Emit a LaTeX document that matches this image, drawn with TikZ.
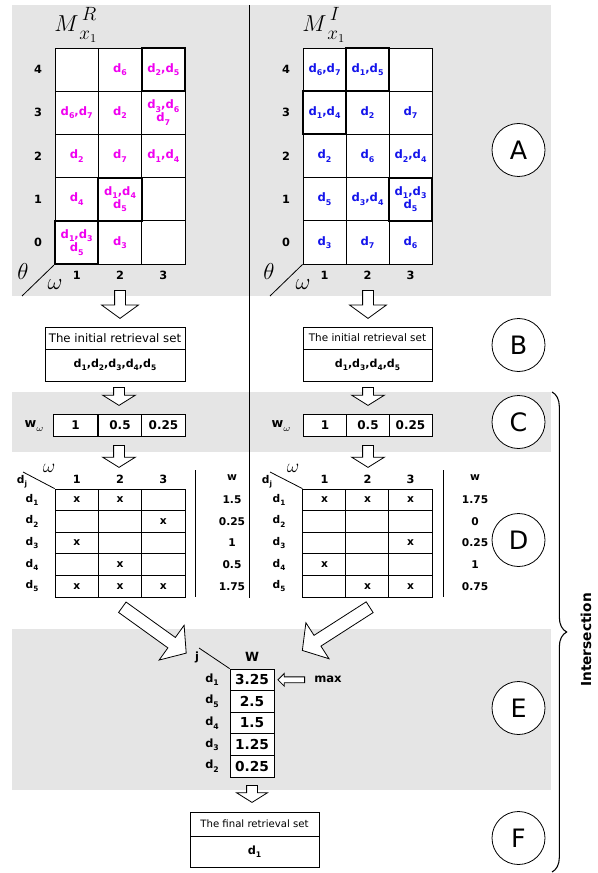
\documentclass[tikz,border=0pt]{standalone}
\usepackage{fontspec}
\setmainfont{DejaVu Sans}
\usepackage{tikz}
\usetikzlibrary{shapes.geometric, shapes.arrows, decorations.pathreplacing}
\definecolor{band}{RGB}{229,229,229}
\definecolor{relmag}{RGB}{240,0,240}
\definecolor{irrblue}{RGB}{20,20,235}
\newcommand{\dsub}[1]{d\raisebox{-0.55ex}{\scalebox{0.68}{#1}}}
\newcommand{\mtitle}[1]{$M^{\,\raisebox{0.15ex}{$\scriptstyle #1$}}_{\,\raisebox{-0.2ex}{$\scriptstyle x_1$}}$}

\begin{document}
\begin{tikzpicture}[x=0.75pt, y=-0.75pt, line width=0.6pt,
  cellR/.style={draw, fill=white, minimum width=32.5pt, minimum height=32.4pt,
                inner sep=0pt, align=center, text=relmag,
                font=\fontsize{8.7}{9.8}\selectfont\bfseries},
  cellI/.style={cellR, minimum width=32.25pt, text=irrblue},
  hot/.style={line width=1.6pt},
  axis/.style={font=\fontsize{8.5}{10}\selectfont\bfseries},
  greek/.style={font=\fontsize{19}{19}\selectfont},
  stage/.style={draw, circle, fill=white, minimum size=39.75pt, inner sep=0pt,
                font=\fontsize{19}{19}\selectfont},
  setbox/.style={draw, fill=white, inner sep=0pt},
  wcell/.style={draw, fill=white, minimum width=33pt, minimum height=16.5pt,
                inner sep=0pt, font=\fontsize{9}{10}\selectfont\bfseries},
  tcell/.style={draw, fill=white, minimum width=32.5pt, minimum height=16.2pt,
                inner sep=0pt, font=\fontsize{8}{8}\selectfont\bfseries},
  ecell/.style={draw, fill=white, minimum width=33pt, minimum height=16.2pt,
                inner sep=0pt, font=\fontsize{10.3}{11}\selectfont\bfseries},
  small/.style={font=\fontsize{8}{9}\selectfont\bfseries},
  hollow/.style={single arrow, draw, fill=white, inner xsep=0pt, inner ysep=3.75pt,
                 single arrow head extend=9.75pt, single arrow tip angle=108,
                 anchor=tail}
]
\useasboundingbox (0,0) rectangle (597,873);

%% Gray bands
\fill[band] (12,5) rectangle (551,296);
\fill[band] (12,392) rectangle (551,452);
\fill[band] (12,629) rectangle (551,790);
\draw (249,5) -- (249,598);

%% Matrix M^R
\node[greek] (titleR) at (76,25) {\mtitle{R}};
\node[cellR] (Rc1r4) at ( 76.7, 69.6) {};
\node[cellR] (Rc2r4) at (120.0, 69.6) {\dsub6};
\node[cellR] (Rc1r3) at ( 76.7,112.8) {\dsub6,\dsub7};
\node[cellR] (Rc2r3) at (120.0,112.8) {\dsub2};
\node[cellR] (Rc3r3) at (163.3,112.8) {\dsub3,\dsub6\\\dsub7};
\node[cellR] (Rc1r2) at ( 76.7,156.0) {\dsub2};
\node[cellR] (Rc2r2) at (120.0,156.0) {\dsub7};
\node[cellR] (Rc3r2) at (163.3,156.0) {\dsub1,\dsub4};
\node[cellR] (Rc1r1) at ( 76.7,199.2) {\dsub4};
\node[cellR] (Rc3r1) at (163.3,199.2) {};
\node[cellR] (Rc2r0) at (120.0,242.4) {\dsub3};
\node[cellR] (Rc3r0) at (163.3,242.4) {};
%% selected cells of M^R
\node[cellR, hot] (Rc3r4) at (163.3, 69.6) {\dsub2,\dsub5};
\node[cellR, hot] (Rc2r1) at (120.0,199.2) {\dsub1,\dsub4\\\dsub5};
\node[cellR, hot] (Rc1r0) at ( 76.7,242.4) {\dsub1,\dsub3\\\dsub5};

\node[axis] (Rrow4) at (38, 69.6) {4};
\node[axis] (Rrow3) at (38,112.8) {3};
\node[axis] (Rrow2) at (38,156.0) {2};
\node[axis] (Rrow1) at (38,199.2) {1};
\node[axis] (Rrow0) at (38,242.4) {0};
\node[axis] (Rcol1) at ( 76.7,275) {1};
\node[axis] (Rcol2) at (120.0,275) {2};
\node[axis] (Rcol3) at (163.3,275) {3};
\node[greek] (Rtheta) at (23,272) {$\theta$};
\node[greek] (Romega) at (55,285) {$\omega$};
\draw (Rc1r0.south west) -- (22,296);

%% Matrix M^I
\node[greek] (titleI) at (324,25) {\mtitle{I}};
\node[cellI] (Ic1r4) at (324.5, 69.6) {\dsub6,\dsub7};
\node[cellI] (Ic3r4) at (410.5, 69.6) {};
\node[cellI] (Ic2r3) at (367.5,112.8) {\dsub2};
\node[cellI] (Ic3r3) at (410.5,112.8) {\dsub7};
\node[cellI] (Ic1r2) at (324.5,156.0) {\dsub2};
\node[cellI] (Ic2r2) at (367.5,156.0) {\dsub6};
\node[cellI] (Ic3r2) at (410.5,156.0) {\dsub2,\dsub4};
\node[cellI] (Ic1r1) at (324.5,199.2) {\dsub5};
\node[cellI] (Ic2r1) at (367.5,199.2) {\dsub3,\dsub4};
\node[cellI] (Ic1r0) at (324.5,242.4) {\dsub3};
\node[cellI] (Ic2r0) at (367.5,242.4) {\dsub7};
\node[cellI] (Ic3r0) at (410.5,242.4) {\dsub6};
%% selected cells of M^I
\node[cellI, hot] (Ic2r4) at (367.5, 69.6) {\dsub1,\dsub5};
\node[cellI, hot] (Ic1r3) at (324.5,112.8) {\dsub1,\dsub4};
\node[cellI, hot] (Ic3r1) at (410.5,199.2) {\dsub1,\dsub3\\\dsub5};

\node[axis] (Irow4) at (286, 69.6) {4};
\node[axis] (Irow3) at (286,112.8) {3};
\node[axis] (Irow2) at (286,156.0) {2};
\node[axis] (Irow1) at (286,199.2) {1};
\node[axis] (Irow0) at (286,242.4) {0};
\node[axis] (Icol1) at (324.5,275) {1};
\node[axis] (Icol2) at (367.5,275) {2};
\node[axis] (Icol3) at (410.5,275) {3};
\node[greek] (Itheta) at (269,272) {$\theta$};
\node[greek] (Iomega) at (303,285) {$\omega$};
\draw (Ic1r0.south west) -- (270,296);

%% Initial retrieval sets
\node[setbox, minimum width=105pt, minimum height=16.5pt,
      font=\fontsize{8.8}{10}\selectfont] (Rinit) at (115,338) {The initial retrieval set};
\node[setbox, minimum width=105pt, minimum height=24pt,
      font=\fontsize{8.3}{9}\selectfont\bfseries] (Rinitset) at (115,365) {\dsub1,\dsub2,\dsub3,\dsub4,\dsub5};
\node[setbox, minimum width=96.75pt, minimum height=16.5pt,
      font=\fontsize{7.8}{9}\selectfont] (Iinit) at (367.5,338) {The initial retrieval set};
\node[setbox, minimum width=96.75pt, minimum height=24pt,
      font=\fontsize{8.3}{9}\selectfont\bfseries] (Iinitset) at (367.5,365) {\dsub1,\dsub3,\dsub4,\dsub5};

%% Weights w_omega
\node[font=\fontsize{9.5}{10}\selectfont\bfseries] (Rwlab) at (34,426) {w\raisebox{-0.7ex}{$\scriptstyle\omega$}};
\node[wcell] (Rw1) at ( 75.5,425) {1};
\node[wcell] (Rw2) at (120.0,425) {0.5};
\node[wcell] (Rw3) at (163.5,425) {0.25};
\node[font=\fontsize{9.5}{10}\selectfont\bfseries] (Iwlab) at (281,426) {w\raisebox{-0.7ex}{$\scriptstyle\omega$}};
\node[wcell, minimum width=32.25pt] (Iw1) at (325.0,425) {1};
\node[wcell, minimum width=32.25pt] (Iw2) at (368.0,425) {0.5};
\node[wcell, minimum width=32.25pt] (Iw3) at (410.5,425) {0.25};

%% Document tables, left
\node[tcell] (Rt11) at ( 76.7,499.8) {x};
\node[tcell] (Rt12) at (120.0,499.8) {x};
\node[tcell] (Rt13) at (163.3,499.8) {};
\node[tcell] (Rt21) at ( 76.7,521.4) {};
\node[tcell] (Rt22) at (120.0,521.4) {};
\node[tcell] (Rt23) at (163.3,521.4) {x};
\node[tcell] (Rt31) at ( 76.7,543.0) {x};
\node[tcell] (Rt32) at (120.0,543.0) {};
\node[tcell] (Rt33) at (163.3,543.0) {};
\node[tcell] (Rt41) at ( 76.7,564.6) {};
\node[tcell] (Rt42) at (120.0,564.6) {x};
\node[tcell] (Rt43) at (163.3,564.6) {};
\node[tcell] (Rt51) at ( 76.7,586.2) {x};
\node[tcell] (Rt52) at (120.0,586.2) {x};
\node[tcell] (Rt53) at (163.3,586.2) {x};
\node[font=\fontsize{14}{14}\selectfont] (Rtom) at (49,468) {$\omega$};
\node[small] (Rtdj) at (22,482) {\dsub{j}};
\draw (23,472) -- (Rt11.north west);
\node[axis] (Rth1) at ( 76.7,479) {1};
\node[axis] (Rth2) at (120.0,479) {2};
\node[axis] (Rth3) at (163.3,479) {3};
\node[small] (Rd1) at (32,499.8) {\dsub1};
\node[small] (Rd2) at (32,521.4) {\dsub2};
\node[small] (Rd3) at (32,543.0) {\dsub3};
\node[small] (Rd4) at (32,564.6) {\dsub4};
\node[small] (Rd5) at (32,586.2) {\dsub5};
\draw (195,470) -- (195,597);
\node[small] (Rwh) at (232,478) {w};
\node[small] (Rs1) at (232,499.8) {1.5};
\node[small] (Rs2) at (232,521.4) {0.25};
\node[small] (Rs3) at (232,543.0) {1};
\node[small] (Rs4) at (232,564.6) {0.5};
\node[small] (Rs5) at (232,586.2) {1.75};

%% Document tables, right
\node[tcell] (It11) at (324.5,499.8) {x};
\node[tcell] (It12) at (367.5,499.8) {x};
\node[tcell] (It13) at (410.5,499.8) {x};
\node[tcell] (It21) at (324.5,521.4) {};
\node[tcell] (It22) at (367.5,521.4) {};
\node[tcell] (It23) at (410.5,521.4) {};
\node[tcell] (It31) at (324.5,543.0) {};
\node[tcell] (It32) at (367.5,543.0) {};
\node[tcell] (It33) at (410.5,543.0) {x};
\node[tcell] (It41) at (324.5,564.6) {x};
\node[tcell] (It42) at (367.5,564.6) {};
\node[tcell] (It43) at (410.5,564.6) {};
\node[tcell] (It51) at (324.5,586.2) {};
\node[tcell] (It52) at (367.5,586.2) {x};
\node[tcell] (It53) at (410.5,586.2) {x};
\node[font=\fontsize{14}{14}\selectfont] (Itom) at (293,468) {$\omega$};
\node[small] (Itdj) at (267,482) {\dsub{j}};
\draw (270,472) -- (It11.north west);
\node[axis] (Ith1) at (324.5,479) {1};
\node[axis] (Ith2) at (367.5,479) {2};
\node[axis] (Ith3) at (410.5,479) {3};
\node[small] (Id1) at (279,499.8) {\dsub1};
\node[small] (Id2) at (279,521.4) {\dsub2};
\node[small] (Id3) at (279,543.0) {\dsub3};
\node[small] (Id4) at (279,564.6) {\dsub4};
\node[small] (Id5) at (279,586.2) {\dsub5};
\draw (443,470) -- (443,597);
\node[small] (Iwh) at (475,478) {w};
\node[small] (Is1) at (475,499.8) {1.75};
\node[small] (Is2) at (475,521.4) {0};
\node[small] (Is3) at (475,543.0) {0.25};
\node[small] (Is4) at (475,564.6) {1};
\node[small] (Is5) at (475,586.2) {0.75};

%% Summed weights
\node[ecell] (Ew1) at (252,679.8) {3.25};
\node[ecell] (Ew2) at (252,701.4) {2.5};
\node[ecell] (Ew3) at (252,723.0) {1.5};
\node[ecell] (Ew4) at (252,744.6) {1.25};
\node[ecell] (Ew5) at (252,766.2) {0.25};
\node[font=\fontsize{9.5}{10}\selectfont\bfseries] (EW) at (252,657) {W};
\node[font=\fontsize{8.5}{10}\selectfont\bfseries] (Ej) at (197,657) {j};
\draw (199,648) -- (Ew1.north west);
\node[font=\fontsize{8.5}{9}\selectfont\bfseries] (Ed1) at (212,679.8) {\dsub1};
\node[font=\fontsize{8.5}{9}\selectfont\bfseries] (Ed5) at (212,701.4) {\dsub5};
\node[font=\fontsize{8.5}{9}\selectfont\bfseries] (Ed4) at (212,723.0) {\dsub4};
\node[font=\fontsize{8.5}{9}\selectfont\bfseries] (Ed3) at (212,744.6) {\dsub3};
\node[font=\fontsize{8.5}{9}\selectfont\bfseries] (Ed2) at (212,766.2) {\dsub2};
\node[font=\fontsize{8.7}{10}\selectfont\bfseries] (max) at (328,679) {max};

%% Final retrieval set
\node[setbox, minimum width=96.75pt, minimum height=18pt,
      font=\fontsize{7.6}{9}\selectfont] (Ffin) at (254.5,824) {The final retrieval set};
\node[setbox, minimum width=96.75pt, minimum height=23.25pt,
      font=\fontsize{8.5}{9}\selectfont\bfseries] (Ffinset) at (254.5,851.5) {\dsub1};

%% Hollow arrows
\node[hollow, rotate=-90, minimum height=21pt] (arrRab) at (120,290) {};
\node[hollow, rotate=-90, minimum height=21pt] (arrIab) at (368,290) {};
\node[hollow, rotate=-90, minimum height=13.5pt, single arrow head extend=8.25pt,
      single arrow tip angle=116] (arrRbc) at (119,387) {};
\node[hollow, rotate=-90, minimum height=13.5pt, single arrow head extend=8.25pt,
      single arrow tip angle=116] (arrIbc) at (368,387) {};
\node[hollow, rotate=-90, minimum height=16.5pt, single arrow head extend=8.25pt,
      single arrow tip angle=116] (arrRcd) at (119,445) {};
\node[hollow, rotate=-90, minimum height=16.5pt, single arrow head extend=8.25pt,
      single arrow tip angle=116] (arrIcd) at (368,445) {};
\node[hollow, rotate=-35.7, minimum height=59pt, inner ysep=4.5pt,
      single arrow head extend=11.25pt, single arrow tip angle=100] (arrRde) at (122,607) {};
\node[hollow, rotate=212.7, minimum height=60pt, inner ysep=4.5pt,
      single arrow head extend=11.25pt, single arrow tip angle=100] (arrIde) at (370,607) {};
\node[hollow, rotate=180, minimum height=20pt, inner ysep=1.9pt,
      single arrow head extend=2.6pt, single arrow tip angle=90] (arrmax) at (305,679.8) {};
\node[hollow, rotate=-90, minimum height=12.75pt, single arrow head extend=7.5pt,
      single arrow tip angle=116] (arref) at (252,785) {};

%% Stages
\node[stage] (stA) at (518.5,150) {A};
\node[stage] (stB) at (518.5,345) {B};
\node[stage] (stC) at (518.5,422) {C};
\node[stage] (stD) at (518.5,540) {D};
\node[stage] (stE) at (518.5,708) {E};
\node[stage] (stF) at (518.5,838) {F};

%% Intersection brace
\coordinate (braceTop) at (552,392);
\coordinate (braceBot) at (552,872);
\draw[line width=0.8pt, decorate, decoration={brace, amplitude=11pt}] (braceTop) -- (braceBot);
\node[rotate=90, font=\fontsize{10.3}{12}\selectfont\bfseries] (isect) at (586,640) {Intersection};

\end{tikzpicture}
\end{document}
